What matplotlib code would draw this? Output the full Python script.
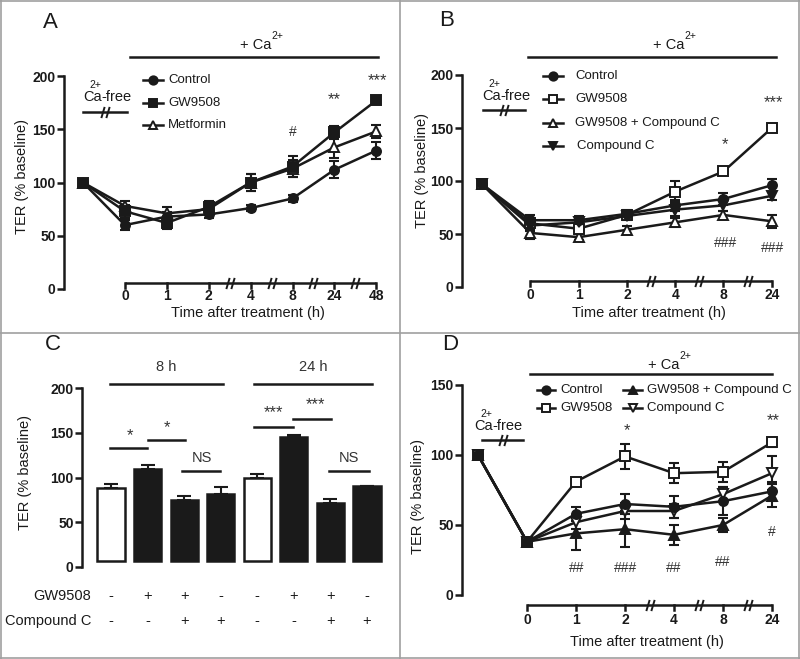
import numpy as np
import matplotlib
matplotlib.use("Agg")
import matplotlib.pyplot as plt
from matplotlib.lines import Line2D
from matplotlib.path import Path
from matplotlib.text import Annotation
from matplotlib.transforms import Affine2D, blended_transform_factory

plt.rcParams['font.family'] = ['Liberation Sans', 'DejaVu Sans']

# ---- data ----
A_times = ['0', '1', '2', '4', '8', '24', '48']
A_control = [100, 60, 68, 70, 76, 85, 112, 130]
A_control_err = [2, 5, 4, 3, 3, 3, 8, 8]
A_gw = [100, 73, 62, 77, 100, 115, 147, 177]
A_gw_err = [2, 6, 6, 6, 8, 10, 6, 3]
A_met = [100, 78, 71, 75, 100, 113, 133, 148]
A_met_err = [2, 5, 6, 5, 8, 8, 10, 6]

B_times = ['0', '1', '2', '4', '8', '24']
B_control = [97, 63, 63, 69, 77, 83, 96]
B_control_err = [2, 5, 4, 4, 5, 6, 6]
B_gw = [97, 60, 55, 68, 90, 109, 150]
B_gw_err = [2, 5, 5, 4, 10, 3, 2]
B_gwc = [97, 51, 47, 54, 61, 68, 62]
B_gwc_err = [2, 6, 3, 4, 4, 4, 6]
B_cc = [97, 58, 61, 67, 73, 77, 86]
B_cc_err = [2, 5, 4, 4, 6, 5, 4]

C_groups = ['8 h', '24 h']
C_gw_sign = ['-', '+', '+', '-', '-', '+', '+', '-']
C_cc_sign = ['-', '-', '+', '+', '-', '-', '+', '+']
C_vals = [88, 110, 75, 82, 99, 145, 71, 90]
C_errs = [5, 4, 4, 7, 5, 3, 5, 1]

D_times = ['0', '1', '2', '4', '8', '24']
D_control = [100, 38, 58, 65, 63, 67, 74]
D_control_err = [2, 3, 5, 7, 8, 10, 7]
D_gw = [100, 38, 81, 99, 87, 88, 109]
D_gw_err = [2, 3, 2, 9, 7, 7, 3]
D_gwc = [100, 38, 44, 47, 43, 50, 71]
D_gwc_err = [2, 3, 12, 13, 7, 5, 8]
D_cc = [100, 38, 52, 60, 60, 72, 87]
D_cc_err = [2, 3, 5, 6, 5, 5, 12]

K = '#1a1a1a'
W, H = 800, 659
fig = plt.figure(figsize=(W / 100, H / 100), dpi=100)
fig.patch.set_facecolor('white')
# pixel coordinates, origin top-left
pix = Affine2D().scale(1 / W, -1 / H).translate(0, 1) + fig.transFigure

# break symbol "//"
brk = Path([(-0.75, -1), (-0.15, 1), (0.15, -1), (0.75, 1)],
           [Path.MOVETO, Path.LINETO, Path.MOVETO, Path.LINETO])

# panel frame
for xs, ys in [([1, 1], [0, H]), ([W - 1, W - 1], [0, H]), ([0, W], [1, 1]),
               ([0, W], [H - 1, H - 1]), ([400, 400], [0, H]), ([0, W], [333, 333])]:
    fig.add_artist(Line2D(xs, ys, transform=pix, color='#a0a0a0', lw=1.2))


def add_panel(spine_x, right_x, top_px, bot_px, ymax, ystep, base_px=None, step=None):
    ax = fig.add_axes([spine_x / W, 1 - bot_px / H, (right_x - spine_x) / W, (bot_px - top_px) / H])
    ax.set_ylim(0, ymax)
    if base_px is not None:
        ax.set_xlim(-1 + (spine_x - base_px) / step, -1 + (right_x - base_px) / step)
    for s in ['top', 'right', 'bottom']:
        ax.spines[s].set_visible(False)
    ax.spines['left'].set_linewidth(1.8)
    ax.spines['left'].set_color(K)
    ax.set_yticks(np.arange(0, ymax + 1, ystep))
    ax.tick_params(axis='y', width=1.8, length=5, labelsize=10, pad=1, colors=K)
    plt.setp(ax.get_yticklabels(), fontweight='bold')
    ax.set_xticks([])
    ax.patch.set_alpha(0)
    return ax


def series(ax, vals, errs, marker, filled):
    pos = np.arange(-1, len(vals) - 1)
    ax.errorbar(pos, vals, yerr=errs, fmt='none', ecolor=K, elinewidth=1.5,
                capsize=3.5, capthick=1.5, clip_on=False, zorder=2)
    ln, = ax.plot(pos, vals, color=K, lw=1.8, marker=marker, ms=6.5,
                  mfc=K if filled else 'white', mec=K, mew=1.4, clip_on=False, zorder=3)
    return ln


def time_axis(ax, times, y_px, lab_px, breaks):
    bt = blended_transform_factory(ax.transData, pix)
    pos = np.arange(len(times))
    ax.plot([pos[0], pos[-1]], [y_px, y_px], color=K, lw=1.8, transform=bt, clip_on=False,
            solid_capstyle='butt')
    for p, t in zip(pos, times):
        ax.plot([p, p], [y_px, y_px + 5], color=K, lw=1.8, transform=bt, clip_on=False)
        ax.text(p, lab_px, t, transform=bt, ha='center', va='center', fontsize=10,
                fontweight='bold', color=K)
    ax.plot(breaks, [y_px] * len(breaks), ls='none', marker=brk, ms=8, mew=1.4, mec=K,
            transform=bt, clip_on=False)


def legend_entry(x0, x1, y, line, text, tx):
    fig.add_artist(Line2D([x0, x1], [y, y], transform=pix, color=K, lw=1.8))
    fig.add_artist(Line2D([(x0 + x1) / 2], [y], transform=pix, ls='none',
                          marker=line.get_marker(), ms=6, mfc=line.get_markerfacecolor(),
                          mec=K, mew=1.4))
    fig.text(tx, y, text, transform=pix, va='center', ha='left', fontsize=9.5, color=K)


def ca_text(x_left, y, prefix, suffix=''):
    t = fig.text(x_left, y, prefix + 'Ca', transform=pix, ha='left', va='center',
                 fontsize=10.5, color=K)
    if suffix:
        fig.add_artist(Annotation('2+', xy=(0.98, 1.0), xycoords=t, ha='right', va='bottom',
                                  fontsize=7.5, color=K))
        fig.add_artist(Annotation(suffix, xy=(1.0, 0.0), xycoords=t, ha='left', va='bottom',
                                  fontsize=10.5, color=K))
    else:
        fig.add_artist(Annotation('2+', xy=(1.0, 0.78), xycoords=t, ha='left', va='bottom',
                                  fontsize=7.5, color=K))


def header(x_left, ty, x0, x1, ly):
    ca_text(x_left, ty, '+ ')
    fig.add_artist(Line2D([x0, x1], [ly, ly], transform=pix, color=K, lw=1.8))


def ca_free(x_left, ty, x0, x1, ly):
    ca_text(x_left, ty, '', '-free')
    fig.add_artist(Line2D([x0, x1], [ly, ly], transform=pix, color=K, lw=1.8))
    fig.add_artist(Line2D([(x0 + x1) / 2], [ly], transform=pix, ls='none', marker=brk,
                          ms=8, mew=1.4, mec=K))


def note(x, y, s, size=12):
    fig.text(x, y, s, transform=pix, ha='center', va='center', fontsize=size, color='#333333')


def labels(letter, lx, ly, ylab_x, ylab_y, xlab=None):
    fig.text(lx, ly, letter, transform=pix, ha='center', va='center', fontsize=16, color=K)
    fig.text(ylab_x, ylab_y, 'TER (% baseline)', transform=pix, ha='center', va='center',
             rotation=90, fontsize=10.5, color=K)
    if xlab is not None:
        fig.text(xlab[0], xlab[1], 'Time after treatment (h)', transform=pix, ha='center',
                 va='center', fontsize=10.5, color=K)


# ---- Panel A ----
axA = add_panel(64, 392, 76, 289, 200, 50, base_px=83, step=41.9)
lA1 = series(axA, A_met, A_met_err, '^', False)
lA2 = series(axA, A_control, A_control_err, 'o', True)
lA3 = series(axA, A_gw, A_gw_err, 's', True)
time_axis(axA, A_times, 282.5, 296, [2.5, 3.5, 4.5, 5.5])
legend_entry(143, 163, 80, lA2, 'Control', 168)
legend_entry(143, 163, 103, lA3, 'GW9508', 168)
legend_entry(143, 163, 125, lA1, 'Metformin', 168)
header(240, 45, 130, 378, 57)
ca_free(83, 97, 83, 127, 112)
note(377, 81, '***')
note(334, 100, '**')
note(293, 132, '#', 10)
labels('A', 50, 22, 22, 176, (248, 313))

# ---- Panel B ----
axB = add_panel(462, 792, 75, 287, 200, 50, base_px=482, step=48.3)
lB3 = series(axB, B_gwc, B_gwc_err, '^', False)
lB2 = series(axB, B_gw, B_gw_err, 's', False)
lB4 = series(axB, B_cc, B_cc_err, 'v', True)
lB1 = series(axB, B_control, B_control_err, 'o', True)
time_axis(axB, B_times, 281, 295, [2.5, 3.5, 4.5])
legend_entry(543, 563, 76, lB1, 'Control', 575)
legend_entry(543, 563, 99, lB2, 'GW9508', 575)
legend_entry(543, 563, 123, lB3, 'GW9508 + Compound C', 575)
legend_entry(543, 563, 146, lB4, 'Compound C', 577)
header(653, 45, 528, 776, 57)
ca_free(482, 96, 483, 525, 110)
note(725, 145, '*')
note(773, 103, '***')
note(726, 243, '###', 10)
note(773, 248, '###', 10)
labels('B', 447, 21, 422, 170, (649, 313))

# ---- Panel C ----
axC = add_panel(82, 392, 388, 567, 200, 50)
step_c = 36.6
axC.set_xlim(-(111 - 82) / step_c, 7 + (392 - 367) / step_c)
xc = np.arange(len(C_vals))
bot = 7
for i, (v, e) in enumerate(zip(C_vals, C_errs)):
    opened = C_gw_sign[i] == '-' and C_cc_sign[i] == '-'
    axC.bar(xc[i], v - bot, bottom=bot, width=0.74, color='white' if opened else K,
            edgecolor=K, linewidth=1.8, zorder=2)
    axC.errorbar(xc[i], v, yerr=[[0], [e]], fmt='none', ecolor=K, elinewidth=1.5,
                 capsize=5, capthick=1.5, zorder=1)
btC = blended_transform_factory(axC.transData, pix)
for i in xc:
    axC.text(i, 596, C_gw_sign[i], transform=btC, ha='center', va='center', fontsize=10.5, color=K)
    axC.text(i, 621, C_cc_sign[i], transform=btC, ha='center', va='center', fontsize=10.5, color=K)
fig.text(91, 596, 'GW9508', transform=pix, ha='right', va='center', fontsize=10.5, color=K)
fig.text(91, 621, 'Compound C', transform=pix, ha='right', va='center', fontsize=10.5, color=K)
for g, (x0, x1) in zip(C_groups, [(110, 223), (254, 372)]):
    note((x0 + x1) / 2, 367, g, 10.5)
    fig.add_artist(Line2D([x0, x1], [384, 384], transform=pix, color=K, lw=1.8))
for (x0, x1, ly), s, (tx, ty) in [((110, 147, 448), '*', (130, 436)),
                                  ((148, 185, 440), '*', (167, 428)),
                                  ((182, 220, 471), 'NS', (202, 458)),
                                  ((254, 293, 427), '***', (273, 413)),
                                  ((293, 331, 419), '***', (315, 405)),
                                  ((329, 369, 471), 'NS', (349, 458))]:
    fig.add_artist(Line2D([x0, x1], [ly, ly], transform=pix, color=K, lw=1.8))
    note(tx, ty, s, 10.5 if s == 'NS' else 12)
labels('C', 53, 345, 25, 473)

# ---- Panel D ----
axD = add_panel(462, 792, 385, 595, 150, 50, base_px=478, step=49)
lD2 = series(axD, D_gw, D_gw_err, 's', False)
lD4 = series(axD, D_cc, D_cc_err, 'v', False)
lD3 = series(axD, D_gwc, D_gwc_err, '^', True)
lD1 = series(axD, D_control, D_control_err, 'o', True)
time_axis(axD, D_times, 605, 620, [2.5, 3.5, 4.5])
legend_entry(537, 555, 390, lD1, 'Control', 560)
legend_entry(537, 555, 408, lD2, 'GW9508', 560)
legend_entry(623, 642, 390, lD3, 'GW9508 + Compound C', 647)
legend_entry(623, 642, 408, lD4, 'Compound C', 647)
header(648, 365, 530, 772, 374)
ca_free(474, 426, 482, 523, 440)
note(627, 431, '*')
note(773, 421, '**')
note(577, 568, '##', 10)
note(626, 568, '###', 10)
note(674, 568, '##', 10)
note(723, 562, '##', 10)
note(772, 532, '#', 10)
labels('D', 450, 345, 418, 497, (647, 642))

fig.savefig('out.png', dpi=100)
